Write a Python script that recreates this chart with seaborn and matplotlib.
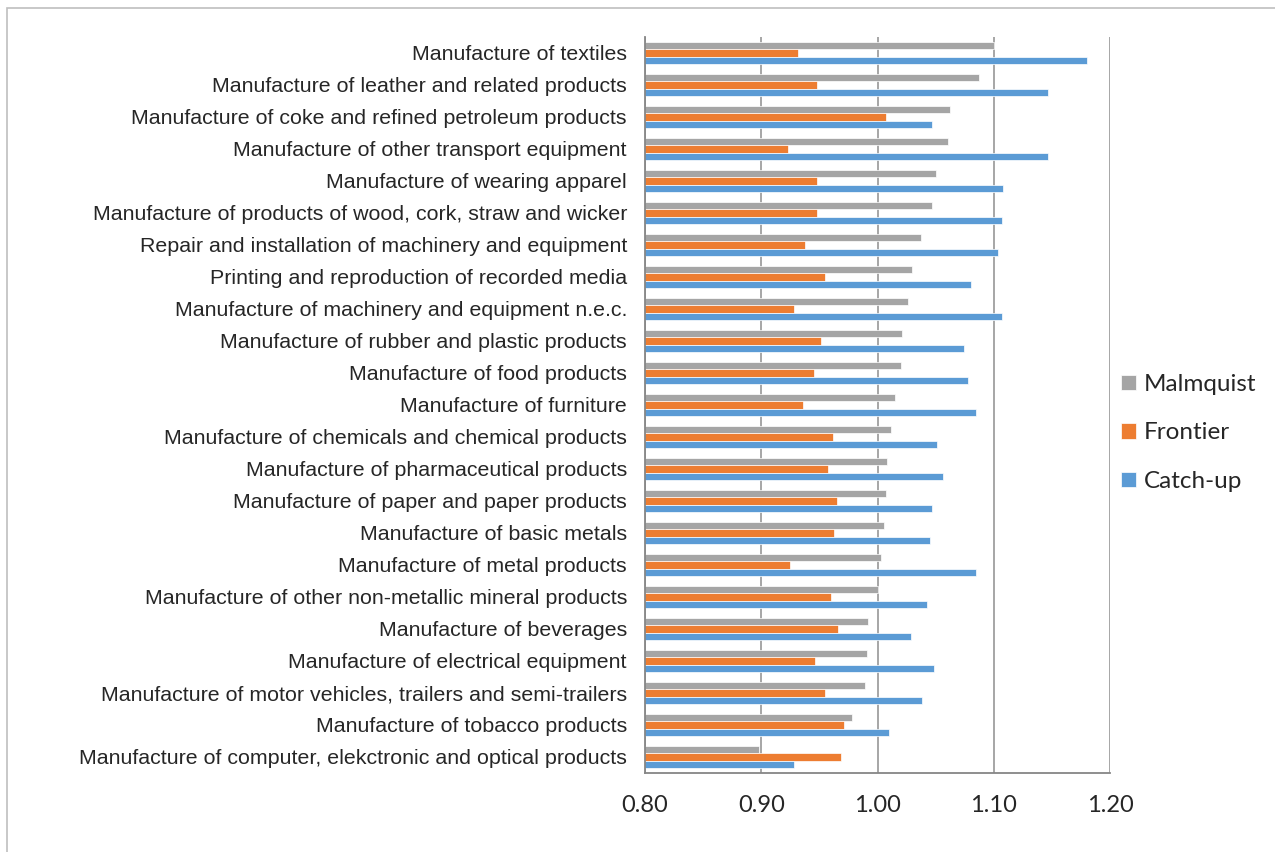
import numpy as np
import pandas as pd
import matplotlib
matplotlib.use("Agg")
import matplotlib.pyplot as plt
import seaborn as sns
from matplotlib.patches import Rectangle

industries = [
    "Manufacture of textiles",
    "Manufacture of leather and related products",
    "Manufacture of coke and refined petroleum products",
    "Manufacture of other transport equipment",
    "Manufacture of wearing apparel",
    "Manufacture of products of wood, cork, straw and wicker",
    "Repair and installation of machinery and equipment",
    "Printing and reproduction of recorded media",
    "Manufacture of machinery and equipment n.e.c.",
    "Manufacture of rubber and plastic products",
    "Manufacture of food products",
    "Manufacture of furniture",
    "Manufacture of chemicals and chemical products",
    "Manufacture of pharmaceutical products",
    "Manufacture of paper and paper products",
    "Manufacture of basic metals",
    "Manufacture of metal products",
    "Manufacture of other non-metallic mineral products",
    "Manufacture of beverages",
    "Manufacture of electrical equipment",
    "Manufacture of motor vehicles, trailers and semi-trailers",
    "Manufacture of tobacco products",
    "Manufacture of computer, elekctronic and optical products",
]

malmquist = [1.100, 1.087, 1.062, 1.061, 1.050, 1.047, 1.037, 1.030, 1.026, 1.021,
             1.020, 1.015, 1.012, 1.008, 1.007, 1.006, 1.003, 1.000, 0.992, 0.991,
             0.989, 0.978, 0.898]
frontier = [0.932, 0.948, 1.007, 0.923, 0.948, 0.948, 0.938, 0.955, 0.928, 0.951,
            0.945, 0.936, 0.962, 0.957, 0.965, 0.963, 0.925, 0.960, 0.966, 0.946,
            0.955, 0.971, 0.969]
catch_up = [1.180, 1.147, 1.047, 1.147, 1.108, 1.107, 1.104, 1.080, 1.107, 1.074,
            1.078, 1.085, 1.051, 1.056, 1.047, 1.045, 1.085, 1.043, 1.029, 1.049,
            1.038, 1.010, 0.928]

series_names = ["Malmquist", "Frontier", "Catch-up"]
colors = ["#A5A5A5", "#ED7D31", "#5B9BD5"]
x_ticks = [0.80, 0.90, 1.00, 1.10, 1.20]

df = pd.DataFrame({
    "industry": industries * 3,
    "value": malmquist + frontier + catch_up,
    "series": [series_names[0]] * len(industries) + [series_names[1]] * len(industries)
              + [series_names[2]] * len(industries),
})

sns.set_style("white")
plt.rcParams["font.family"] = ["Liberation Sans", "DejaVu Sans"]

W, H = 1275, 852
fig = plt.figure(figsize=(W / 100, H / 100), dpi=100)
ax = fig.add_axes([645 / W, 1 - 773 / H, (1110 - 645) / W, (773 - 37) / H])

sns.barplot(data=df, x="value", y="industry", hue="series", hue_order=series_names,
            palette=colors, orient="h", width=0.68, gap=0, ax=ax,
            order=industries, saturation=1, legend=True,
            linewidth=0.5, edgecolor="white")

ax.set_xlim(0.80, 1.20)
ax.set_ylim(len(industries) - 0.5, -0.5)
ax.set_xticks(x_ticks)
ax.set_xticklabels([f"{t:.2f}" for t in x_ticks], fontsize=17, family=["Lato", "DejaVu Sans"])
ax.set_xlabel("")
ax.set_ylabel("")

# vertical grid
ax.set_axisbelow(True)
ax.xaxis.grid(True, color="#a6a6a6", linewidth=1.4)
ax.yaxis.grid(False)

# spines
for s in ["top", "right"]:
    ax.spines[s].set_visible(False)
ax.spines["left"].set_color("#868686")
ax.spines["bottom"].set_color("#868686")
ax.spines["left"].set_linewidth(1.3)
ax.spines["bottom"].set_linewidth(1.3)
ax.spines["left"].set_zorder(5)

# y tick marks at category boundaries
ax.tick_params(axis="y", which="major", length=0, pad=13, labelsize=15.4, colors="#262626")
ax.set_yticks(np.arange(len(industries) + 1) - 0.5, minor=True)
ax.tick_params(axis="y", which="minor", length=5, width=1.2, color="#868686", direction="out")
ax.tick_params(axis="x", which="major", length=8, width=1.2, color="#868686",
               direction="out", pad=8, labelcolor="#262626")

handles, labels = ax.get_legend_handles_labels()
ax.legend_.remove()
fig.legend(handles, labels, loc="center left", bbox_to_anchor=(1121 / W, 1 - 433 / H),
           bbox_transform=fig.transFigure, frameon=False, borderpad=0, borderaxespad=0,
           prop={"family": ["Lato", "DejaVu Sans"], "size": 17.5},
           handlelength=0.6, handleheight=0.6, handletextpad=0.35,
           labelspacing=1.14, labelcolor="#262626")

# outer border of the chart area
fig.patches.append(Rectangle((7 / W, -0.05), 1.1, 1 - 8 / H + 0.05,
                             transform=fig.transFigure, fill=False,
                             edgecolor="#bfbfbf", linewidth=1.2))

fig.savefig("out.png", dpi=100)
